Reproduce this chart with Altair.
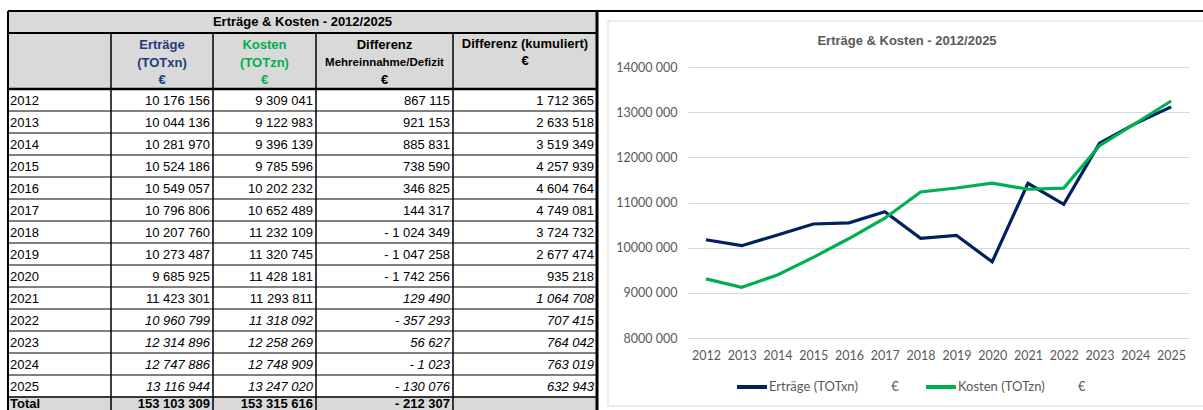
import altair as alt
import pandas as pd

# ---------------- data ----------------
YEARS = [2012, 2013, 2014, 2015, 2016, 2017, 2018, 2019, 2020, 2021, 2022, 2023, 2024, 2025]
ERTRAEGE = [10176156, 10044136, 10281970, 10524186, 10549057, 10796806, 10207760,
            10273487, 9685925, 11423301, 10960799, 12314896, 12747886, 13116944]
KOSTEN = [9309041, 9122983, 9396139, 9785596, 10202232, 10652489, 11232109,
          11320745, 11428181, 11293811, 11318092, 12258269, 12748909, 13247020]
DIFFERENZ = [867115, 921153, 885831, 738590, 346825, 144317, -1024349,
             -1047258, -1742256, 129490, -357293, 56627, -1023, -130076]
KUMULIERT = [1712365, 2633518, 3519349, 4257939, 4604764, 4749081, 3724732,
             2677474, 935218, 1064708, 707415, 764042, 763019, 632943]
TOTALS = [153103309, 153315616, -212307]
ITALIC_EK_YEARS = [2022, 2023, 2024, 2025]
ITALIC_DIFF_YEARS = [2021, 2022, 2023, 2024, 2025]

TITLE = "Erträge & Kosten - 2012/2025"
HEADERS = [["Erträge", "(TOTxn)", "€"],
           ["Kosten", "(TOTzn)", "€"],
           ["Differenz", "Mehreinnahme/Defizit", "€"],
           ["Differenz (kumuliert)", "€"]]
SERIES = ["Erträge (TOTxn)", "Kosten (TOTzn)"]
Y_TICKS = [8000000, 9000000, 10000000, 11000000, 12000000, 13000000, 14000000]

# ---------------- style / layout ----------------
NAVY = "#002060"
NAVY_HDR = "#1f3d7a"
GREEN = "#00b050"
GREYBG = "#d9d9d9"
TXT = "#595959"
TFONT = "Liberation Sans"
CFONT = "Lato"
W, H = 1203, 410
COL_EDGES = [8, 111, 213, 316, 453, 597]
Y_TOP, Y_HEAD, Y_BODY, ROW_H = 11, 33, 89, 22


def fmt(v):
    s = f"{abs(v):,}".replace(",", " ")
    return ("- " if v < 0 else "") + s


xs = alt.Scale(domain=[0, W], range=[0, W], nice=False, zero=False)
ys = alt.Scale(domain=[0, H], range=[0, H], nice=False, zero=False)

n = len(YEARS)
y_total = Y_BODY + n * ROW_H
left, right = COL_EDGES[0], COL_EDGES[-1]

# backgrounds
bg = pd.DataFrame([
    dict(x1=608, x2=W + 10, y1=21, y2=406, fill="transparent", stroke=GREYBG),
    dict(x1=left, x2=right, y1=Y_TOP, y2=Y_HEAD, fill=GREYBG, stroke=GREYBG),
    dict(x1=left, x2=right, y1=Y_HEAD, y2=Y_BODY, fill=GREYBG, stroke=GREYBG),
    dict(x1=left, x2=right, y1=y_total, y2=H + 10, fill=GREYBG, stroke=GREYBG),
])
bg_layer = alt.Chart(bg).mark_rect(strokeWidth=1).encode(
    x=alt.X("x1:Q", scale=xs, axis=None), x2="x2:Q",
    y=alt.Y("y1:Q", scale=ys, axis=None), y2="y2:Q",
    fill=alt.Fill("fill:N", scale=None), stroke=alt.Stroke("stroke:N", scale=None))

# grid lines of the table
lines = [dict(x1=left, x2=W, y1=Y_TOP, y2=Y_TOP, w=2),
         dict(x1=left, x2=right, y1=Y_HEAD, y2=Y_HEAD, w=2),
         dict(x1=left, x2=right, y1=Y_BODY, y2=Y_BODY, w=2.5),
         dict(x1=left, x2=right, y1=y_total, y2=y_total, w=1.5)]
for i in range(1, n):
    yy = Y_BODY + i * ROW_H
    lines.append(dict(x1=left, x2=right, y1=yy, y2=yy, w=1))
for c in COL_EDGES[1:-1]:
    lines.append(dict(x1=c, x2=c, y1=Y_HEAD, y2=H + 5, w=1.5))
lines.append(dict(x1=left, x2=left, y1=Y_TOP, y2=H + 5, w=2))
lines.append(dict(x1=right, x2=right, y1=Y_TOP, y2=H + 5, w=3))
rule_layer = alt.Chart(pd.DataFrame(lines)).mark_rule(color="black").encode(
    x=alt.X("x1:Q", scale=xs, axis=None), x2="x2:Q",
    y=alt.Y("y1:Q", scale=ys, axis=None), y2="y2:Q",
    strokeWidth=alt.StrokeWidth("w:Q", scale=None))

# text cells
cells = []
cells.append(dict(x=(left + right) / 2, y=Y_TOP + 11, text=TITLE, align="center",
                  style="normal", weight="bold", size=13, color="black"))
hdr_colors = [NAVY_HDR, GREEN, "black", "black"]
for ci, hdr in enumerate(HEADERS):
    cx = (COL_EDGES[ci + 1] + COL_EDGES[ci + 2]) / 2
    ypos = [45, 63, 80] if len(hdr) == 3 else [44, 61]
    for li, t in enumerate(hdr):
        sz = 11.5 if t == "Mehreinnahme/Defizit" else 13
        cells.append(dict(x=cx, y=ypos[li], text=t, align="center", style="normal",
                          weight="bold", size=sz, color=hdr_colors[ci]))
for i, yr in enumerate(YEARS):
    cy = Y_BODY + i * ROW_H + ROW_H / 2 + 1
    cells.append(dict(x=left + 2, y=cy, text=str(yr), align="left", style="normal",
                      weight="normal", size=13, color="black"))
    vals = [ERTRAEGE[i], KOSTEN[i], DIFFERENZ[i], KUMULIERT[i]]
    for ci, v in enumerate(vals):
        it = (yr in ITALIC_EK_YEARS) if ci < 2 else (yr in ITALIC_DIFF_YEARS)
        cells.append(dict(x=COL_EDGES[ci + 2] - 3, y=cy, text=fmt(v), align="right",
                          style="italic" if it else "normal", weight="normal", size=13,
                          color="black"))
ty = y_total + 7
cells.append(dict(x=left + 2, y=ty, text="Total", align="left", style="normal",
                  weight="bold", size=13, color="black"))
for ci, v in enumerate(TOTALS):
    cells.append(dict(x=COL_EDGES[ci + 2] - 3, y=ty, text=fmt(v), align="right",
                      style="normal", weight="bold", size=13, color="black"))
cells = pd.DataFrame(cells)

text_layers = []
for (al, st, wt, sz), sub in cells.groupby(["align", "style", "weight", "size"]):
    text_layers.append(
        alt.Chart(sub).mark_text(align=al, fontStyle=st, fontWeight=wt, fontSize=sz,
                                 font=TFONT, baseline="middle").encode(
            x=alt.X("x:Q", scale=xs, axis=None),
            y=alt.Y("y:Q", scale=ys, axis=None),
            text="text:N",
            color=alt.Color("color:N", scale=None)))

table = alt.layer(bg_layer, rule_layer, *text_layers)

# ---------------- line chart ----------------
pad = "\u00a0" * 10
labels = [SERIES[0] + pad + "€", SERIES[1] + pad + "€"]
line_df = pd.DataFrame({
    "year": [str(y) for y in YEARS] * 2,
    "value": ERTRAEGE + KOSTEN,
    "series": [labels[0]] * n + [labels[1]] * n,
})

xl = alt.Scale(type="point", domain=[str(y) for y in YEARS], range=[688, 1189], padding=0.5)
yl = alt.Scale(domain=[Y_TICKS[0], Y_TICKS[-1]], range=[338, 67], nice=False, zero=False)

lines_chart = alt.Chart(line_df).mark_line(strokeWidth=3.2).encode(
    x=alt.X("year:O", scale=xl,
            axis=alt.Axis(orient="bottom", offset=-(H - 338), title=None, labelAngle=0,
                          domain=False, ticks=False, tickSize=0, grid=False,
                          labelPadding=11, labelFont=CFONT, labelFontSize=12.5,
                          labelColor=TXT)),
    y=alt.Y("value:Q", scale=yl,
            axis=alt.Axis(orient="left", offset=-688, title=None, values=Y_TICKS,
                          domain=False, ticks=False, tickSize=0, grid=True,
                          gridColor=GREYBG, gridWidth=1, labelPadding=11,
                          labelFont=CFONT, labelFontSize=12.5, labelColor=TXT,
                          labelExpr="format(datum.value / 1000, 'd') + ' 000'")),
    color=alt.Color("series:N", scale=alt.Scale(domain=labels, range=[NAVY, GREEN]),
                    legend=alt.Legend(orient="none", legendX=735, legendY=370,
                                      direction="horizontal", title=None,
                                      symbolType="stroke", symbolStrokeWidth=4,
                                      symbolSize=900, labelFont=CFONT,
                                      labelFontSize=13, labelColor=TXT,
                                      labelOffset=0, columnPadding=19,
                                      labelLimit=400, padding=0)),
)

title_chart = alt.Chart(pd.DataFrame({"t": [TITLE]})).mark_text(
    font=TFONT, fontSize=13, fontWeight="bold", color=TXT, baseline="middle",
    align="center").encode(x=alt.value(907), y=alt.value(41), text="t:N")

linechart = alt.layer(lines_chart, title_chart)

chart = alt.layer(table, linechart).resolve_scale(
    x="independent", y="independent", color="independent"
).properties(width=W, height=H, padding=0, autosize="none").configure_view(stroke=None)

chart.save("out.html", embed_options={"renderer": "svg", "actions": False})
